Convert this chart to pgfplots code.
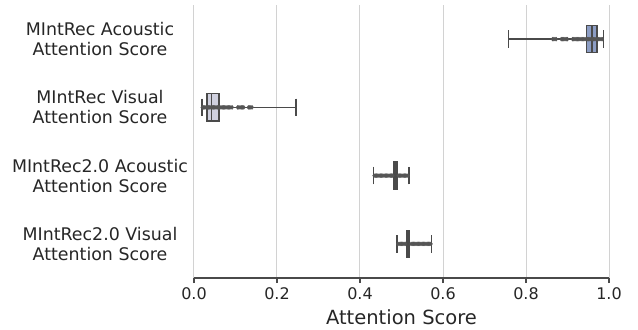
\documentclass[border=0pt]{standalone}
\usepackage{pgfplots}
\pgfplotsset{compat=1.18}
\usepgfplotslibrary{statistics}
\usepackage{fontspec}
\setmainfont{DejaVu Sans}
\definecolor{boxA}{HTML}{8C9DC4}
\definecolor{boxB}{HTML}{CFD0DF}
\definecolor{edge}{HTML}{4A4A4A}
\definecolor{fl}{HTML}{555555}
\definecolor{txt}{HTML}{262626}
\begin{document}
\begin{tikzpicture}
\begin{axis}[
  name=ax,
  scale only axis,
  width=415bp, height=273bp,
  xmin=0, xmax=1, ymin=0.5, ymax=4.5,
  y dir=reverse,
  axis x line*=bottom, axis y line*=left,
  y axis line style={draw=none},
  x axis line style={draw=edge, line width=1.1bp},
  xtick={0,0.2,0.4,0.6,0.8,1.0},
  xticklabel style={font=\fontsize{16bp}{19bp}\selectfont, text=txt, yshift=-1bp},
  /pgf/number format/assume math mode=true,
  /pgf/number format/fixed, /pgf/number format/fixed zerofill, /pgf/number format/precision=1,
  tick align=outside,
  major tick length=5bp,
  xtick style={draw=edge, line width=1.1bp},
  ytick={1,2,3,4},
  ytick style={draw=none},
  yticklabels={{MIntRec Acoustic\\Attention Score},{MIntRec Visual\\Attention Score},{MIntRec2.0 Acoustic\\Attention Score},{MIntRec2.0 Visual\\Attention Score}},
  yticklabel style={align=center, anchor=center, xshift=-89bp, font=\fontsize{17.4bp}{20bp}\selectfont, text=txt},
  xmajorgrids, grid style={draw=gray!35, line width=1bp},
  xlabel={Attention Score},
  xlabel style={font=\fontsize{19.5bp}{22bp}\selectfont, text=txt, yshift=-3bp},
  every boxplot/.style={draw=edge, line width=1.3bp, mark=diamond*, mark size=2.1bp, mark options={fill=fl, draw=fl, line width=0.2bp, xscale=1.0}},
  clip=false,
]
\addplot+[boxplot prepared={draw position=1, lower whisker=0.757, lower quartile=0.945, median=0.959, upper quartile=0.971, upper whisker=0.986, box extend=0.4, whisker extend=0.26}, draw=edge, fill=boxA, solid]
 table[row sep=\\, y index=0] {data\\ 0.864\\ 0.867\\ 0.870\\ 0.873\\ 0.885\\ 0.888\\ 0.891\\ 0.894\\ 0.897\\ 0.900\\ 0.912\\ 0.915\\ 0.918\\ 0.921\\ 0.924\\ 0.927\\ 0.930\\ 0.933\\ 0.936\\ 0.939\\ 0.942\\ 0.945\\ 0.948\\ 0.951\\ 0.954\\ 0.957\\ 0.960\\ 0.963\\ 0.966\\ 0.969\\ 0.972\\ 0.975\\ 0.978\\ 0.981\\ 0.984\\};
\addplot+[boxplot prepared={draw position=2, lower whisker=0.019, lower quartile=0.031, median=0.043, upper quartile=0.060, upper whisker=0.246, box extend=0.4, whisker extend=0.26}, draw=edge, fill=boxB, solid]
 table[row sep=\\, y index=0] {data\\ 0.020\\ 0.023\\ 0.026\\ 0.029\\ 0.032\\ 0.035\\ 0.038\\ 0.041\\ 0.044\\ 0.047\\ 0.050\\ 0.053\\ 0.056\\ 0.059\\ 0.062\\ 0.065\\ 0.068\\ 0.071\\ 0.074\\ 0.077\\ 0.080\\ 0.083\\ 0.086\\ 0.089\\ 0.092\\ 0.105\\ 0.108\\ 0.111\\ 0.114\\ 0.117\\ 0.120\\ 0.131\\ 0.134\\ 0.137\\ 0.140\\};
\addplot+[boxplot prepared={draw position=3, lower whisker=0.432, lower quartile=0.482, median=0.485, upper quartile=0.489, upper whisker=0.518, box extend=0.4, whisker extend=0.26}, draw=edge, fill=edge, solid]
 table[row sep=\\, y index=0] {data\\ 0.434\\ 0.437\\ 0.440\\ 0.443\\ 0.446\\ 0.449\\ 0.452\\ 0.455\\ 0.458\\ 0.461\\ 0.464\\ 0.467\\ 0.470\\ 0.473\\ 0.476\\ 0.479\\ 0.492\\ 0.495\\ 0.498\\ 0.501\\ 0.504\\ 0.507\\ 0.510\\ 0.513\\ 0.516\\};
\addplot+[boxplot prepared={draw position=4, lower whisker=0.489, lower quartile=0.512, median=0.516, upper quartile=0.520, upper whisker=0.573, box extend=0.4, whisker extend=0.26}, draw=edge, fill=edge, solid]
 table[row sep=\\, y index=0] {data\\ 0.491\\ 0.494\\ 0.497\\ 0.500\\ 0.503\\ 0.506\\ 0.509\\ 0.523\\ 0.526\\ 0.529\\ 0.532\\ 0.535\\ 0.538\\ 0.541\\ 0.544\\ 0.547\\ 0.550\\ 0.553\\ 0.556\\ 0.559\\ 0.562\\ 0.565\\ 0.568\\ 0.571\\};
\end{axis}
\path (ax.south east) ++(29bp,-52bp);
\path (ax.north west) ++(-194bp,5bp);
\end{tikzpicture}
\end{document}
